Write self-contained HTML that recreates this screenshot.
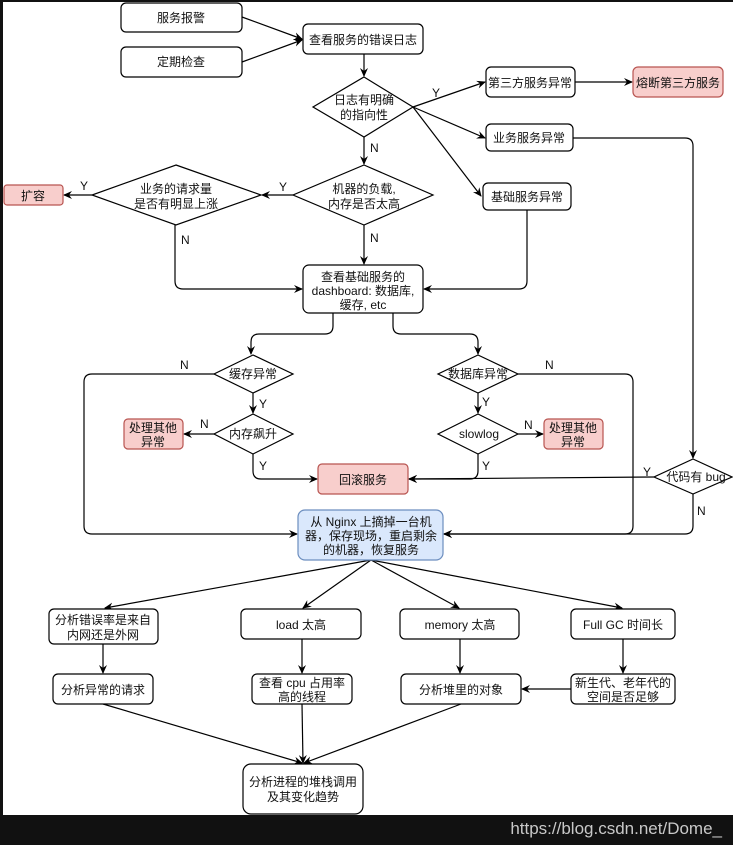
<!DOCTYPE html>
<html><head><meta charset="utf-8"><style>
html,body{margin:0;padding:0;background:#fff;}
svg{display:block;}
text{font-family:"Liberation Sans","Noto Sans CJK SC",sans-serif;font-size:12px;fill:#111;}
</style></head><body>
<svg width="733" height="845" viewBox="0 0 733 845" xmlns="http://www.w3.org/2000/svg">
<defs><marker id="a" markerWidth="10" markerHeight="10" refX="8" refY="5" orient="auto" markerUnits="userSpaceOnUse"><path d="M0,1 L9,5 L0,9 L3,5 Z" fill="#000"/></marker></defs>
<rect x="0" y="0" width="733" height="845" fill="#fff"/>
<rect x="0" y="0" width="733" height="2" fill="#111"/>
<rect x="0" y="0" width="3" height="845" fill="#111"/>
<rect x="0" y="815" width="733" height="30" fill="#111"/>
<text x="722" y="834" text-anchor="end" style="font-size:17px;fill:#c8c8c8">https://blog.csdn.net/Dome_</text>

<g fill="none" stroke="#000" stroke-width="1.2">
<!-- top connectors -->
<line x1="242" y1="17" x2="302" y2="39" marker-end="url(#a)"/>
<line x1="242" y1="62" x2="302" y2="40" marker-end="url(#a)"/>
<line x1="364" y1="54" x2="364" y2="76" marker-end="url(#a)"/>
<line x1="413" y1="107" x2="485" y2="82" marker-end="url(#a)"/>
<line x1="575" y1="82" x2="632" y2="82" marker-end="url(#a)"/>
<line x1="413" y1="107" x2="485" y2="138" marker-end="url(#a)"/>
<line x1="413" y1="107" x2="481" y2="196" marker-end="url(#a)"/>
<line x1="364" y1="137" x2="364" y2="164" marker-end="url(#a)"/>
<line x1="293" y1="195" x2="262" y2="195" marker-end="url(#a)"/>
<line x1="92" y1="195" x2="64" y2="195" marker-end="url(#a)"/>
<line x1="364" y1="225" x2="364" y2="264" marker-end="url(#a)"/>
<path d="M175,225 L175,281 Q175,289 183,289 L302,289" marker-end="url(#a)"/>
<path d="M527,210 L527,281 Q527,289 519,289 L424,289" marker-end="url(#a)"/>
<path d="M573,138 L685,138 Q693,138 693,146 L693,458" marker-end="url(#a)"/>
<!-- dashboard splits -->
<path d="M333,313 L333,326 Q333,334 325,334 L259,334 Q251,334 251,342 L251,354" marker-end="url(#a)"/>
<path d="M393,313 L393,326 Q393,334 401,334 L470,334 Q478,334 478,342 L478,354" marker-end="url(#a)"/>
<line x1="253" y1="393" x2="253" y2="413" marker-end="url(#a)"/>
<line x1="478" y1="393" x2="478" y2="413" marker-end="url(#a)"/>
<line x1="214" y1="434" x2="184" y2="434" marker-end="url(#a)"/>
<line x1="518" y1="434" x2="543" y2="434" marker-end="url(#a)"/>
<path d="M253,454 L253,471 Q253,479 261,479 L317,479" marker-end="url(#a)"/>
<path d="M478,454 L478,471 Q478,479 470,479 L409,479" marker-end="url(#a)"/>
<line x1="654" y1="477" x2="409" y2="479" marker-end="url(#a)"/>
<path d="M214,374 L92,374 Q84,374 84,382 L84,526 Q84,534 92,534 L297,534" marker-end="url(#a)"/>
<path d="M518,374 L625,374 Q633,374 633,382 L633,526 Q633,534 625,534 L444,534" marker-end="url(#a)"/>
<path d="M693,494 L693,526 Q693,534 685,534 L444,534" marker-end="url(#a)"/>
<!-- bottom -->
<line x1="371" y1="560" x2="105" y2="608" marker-end="url(#a)"/>
<line x1="371" y1="560" x2="303" y2="608" marker-end="url(#a)"/>
<line x1="371" y1="560" x2="459" y2="608" marker-end="url(#a)"/>
<line x1="371" y1="560" x2="622" y2="608" marker-end="url(#a)"/>
<line x1="103" y1="644" x2="103" y2="673" marker-end="url(#a)"/>
<line x1="302" y1="639" x2="302" y2="673" marker-end="url(#a)"/>
<line x1="460" y1="639" x2="460" y2="673" marker-end="url(#a)"/>
<line x1="623" y1="639" x2="623" y2="673" marker-end="url(#a)"/>
<line x1="571" y1="689" x2="522" y2="689" marker-end="url(#a)"/>
<line x1="103" y1="704" x2="302" y2="763" marker-end="url(#a)"/>
<line x1="302" y1="704" x2="303" y2="763" marker-end="url(#a)"/>
<line x1="461" y1="704" x2="304" y2="763" marker-end="url(#a)"/>
</g>

<g stroke="#000" stroke-width="1.2" fill="#fff">
<rect x="121" y="3" width="121" height="29" rx="5"/>
<rect x="121" y="47" width="121" height="30" rx="5"/>
<rect x="303" y="24" width="120" height="30" rx="5"/>
<polygon points="364,77 413,107 364,137 313,107"/>
<rect x="486" y="67" width="89" height="30" rx="5"/>
<rect x="486" y="124" width="87" height="27" rx="5"/>
<rect x="483" y="183" width="88" height="27" rx="5"/>
<polygon points="364,165 433,195 364,225 293,195"/>
<polygon points="176,165 261,195 176,225 92,195"/>
<rect x="303" y="265" width="120" height="48" rx="6"/>
<polygon points="253,355 293,374 253,393 214,374"/>
<polygon points="478,355 518,374 478,393 438,374"/>
<polygon points="253,414 293,434 253,454 214,434"/>
<polygon points="478,414 518,434 478,454 438,434"/>
<polygon points="693,459 732,477 693,494 654,477"/>
<rect x="49" y="609" width="109" height="35" rx="5"/>
<rect x="241" y="609" width="120" height="30" rx="5"/>
<rect x="400" y="609" width="119" height="30" rx="5"/>
<rect x="571" y="609" width="104" height="30" rx="5"/>
<rect x="53" y="674" width="100" height="30" rx="5"/>
<rect x="252" y="674" width="100" height="30" rx="5"/>
<rect x="401" y="674" width="120" height="30" rx="5"/>
<rect x="571" y="674" width="104" height="30" rx="5"/>
<rect x="243" y="764" width="120" height="50" rx="8"/>
</g>
<g stroke="#b85450" stroke-width="1.2" fill="#f8cecc">
<rect x="633" y="67" width="90" height="30" rx="5"/>
<rect x="4" y="185" width="59" height="20" rx="3"/>
<rect x="124" y="419" width="59" height="30" rx="4"/>
<rect x="544" y="419" width="59" height="30" rx="4"/>
<rect x="318" y="464" width="90" height="30" rx="4"/>
</g>
<rect x="298" y="510" width="145" height="50" rx="7" fill="#dae8fc" stroke="#6c8ebf" stroke-width="1.2"/>

<g text-anchor="middle">
<text x="181" y="22">服务报警</text>
<text x="181" y="66">定期检查</text>
<text x="363" y="44">查看服务的错误日志</text>
<text x="364" y="104">日志有明确</text>
<text x="364" y="119">的指向性</text>
<text x="530" y="87">第三方服务异常</text>
<text x="678" y="87">熔断第三方服务</text>
<text x="529" y="142">业务服务异常</text>
<text x="527" y="201">基础服务异常</text>
<text x="364" y="193">机器的负载,</text>
<text x="364" y="208">内存是否太高</text>
<text x="176" y="193">业务的请求量</text>
<text x="176" y="208">是否有明显上涨</text>
<text x="33" y="200">扩容</text>
<text x="363" y="281">查看基础服务的</text>
<text x="363" y="295">dashboard: 数据库,</text>
<text x="363" y="309">缓存, etc</text>
<text x="253" y="378">缓存异常</text>
<text x="478" y="378">数据库异常</text>
<text x="253" y="438">内存飙升</text>
<text x="479" y="438">slowlog</text>
<text x="153" y="432">处理其他</text>
<text x="153" y="446">异常</text>
<text x="573" y="432">处理其他</text>
<text x="573" y="446">异常</text>
<text x="363" y="484">回滚服务</text>
<text x="696" y="481">代码有 bug</text>
<text x="371" y="526">从 Nginx 上摘掉一台机</text>
<text x="371" y="540">器，保存现场，重启剩余</text>
<text x="371" y="554">的机器，恢复服务</text>
<text x="103" y="624">分析错误率是来自</text>
<text x="103" y="639">内网还是外网</text>
<text x="301" y="629">load 太高</text>
<text x="460" y="629">memory 太高</text>
<text x="623" y="629">Full GC 时间长</text>
<text x="103" y="694">分析异常的请求</text>
<text x="302" y="687">查看 cpu 占用率</text>
<text x="302" y="701">高的线程</text>
<text x="461" y="694">分析堆里的对象</text>
<text x="623" y="687">新生代、老年代的</text>
<text x="623" y="701">空间是否足够</text>
<text x="303" y="786">分析进程的堆栈调用</text>
<text x="303" y="801">及其变化趋势</text>
</g>
<g>
<text x="432" y="97">Y</text><text x="370" y="152">N</text>
<text x="279" y="191">Y</text><text x="80" y="190">Y</text>
<text x="181" y="244">N</text><text x="370" y="242">N</text>
<text x="180" y="369">N</text><text x="259" y="408">Y</text>
<text x="200" y="428">N</text><text x="259" y="470">Y</text>
<text x="545" y="369">N</text><text x="482" y="406">Y</text>
<text x="524" y="429">N</text><text x="482" y="470">Y</text>
<text x="643" y="476">Y</text><text x="697" y="515">N</text>
</g>
</svg>
</body></html>
